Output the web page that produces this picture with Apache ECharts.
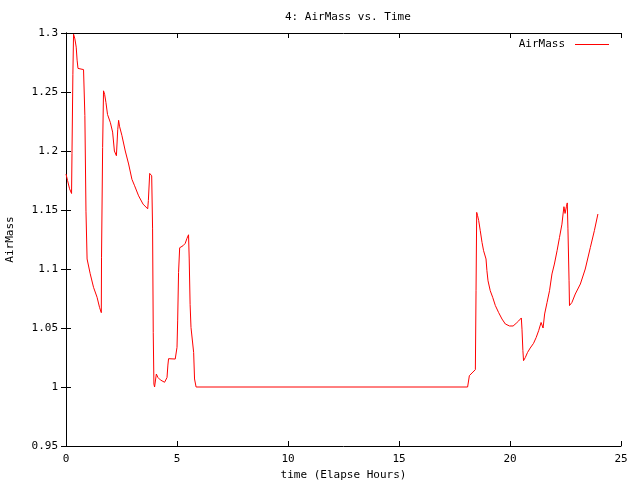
<!DOCTYPE html>
<html><head><meta charset="utf-8">
<script src="https://cdn.jsdelivr.net/npm/echarts@6/dist/echarts.min.js"></script>
<style>html,body{margin:0;padding:0;background:#fff}#c{width:640px;height:480px}</style>
</head><body><div id="c"></div>
<script>
const times = [0,0.07,0.16,0.25,0.27,0.31,0.34,0.4,0.46,0.5,0.54,0.79,0.84,0.85,0.9,0.95,1.09,1.24,1.4,1.51,1.59,1.6,1.65,1.69,1.74,1.8,1.87,2.0,2.1,2.18,2.27,2.33,2.37,2.41,2.52,2.67,2.82,2.97,3.08,3.27,3.47,3.68,3.71,3.77,3.86,3.9,3.93,3.96,3.99,4.07,4.14,4.25,4.44,4.55,4.59,4.62,4.92,5.0,5.03,5.07,5.12,5.27,5.37,5.45,5.52,5.55,5.59,5.63,5.72,5.75,5.79,5.86,
  18.09,18.17,18.29,18.44,18.47,18.5,18.54,18.59,18.66,18.74,18.81,18.92,18.96,19.01,19.11,19.22,19.34,19.49,19.64,19.79,19.98,20.14,20.28,20.39,20.51,20.54,20.58,20.61,20.69,20.79,20.91,21.06,21.18,21.29,21.4,21.49,21.56,21.67,21.78,21.89,22.0,22.12,22.23,22.34,22.39,22.43,22.48,22.54,22.58,22.61,22.66,22.68,22.79,22.94,23.17,23.39,23.62,23.8,23.96];
const airmass = [1.1805,1.175,1.168,1.164,1.198,1.265,1.299,1.295,1.288,1.277,1.270,1.269,1.270,1.230,1.149,1.1085,1.096,1.0845,1.076,1.0675,1.063,1.110,1.203,1.251,1.248,1.241,1.231,1.224,1.216,1.200,1.196,1.218,1.226,1.221,1.213,1.200,1.189,1.176,1.171,1.162,1.155,1.151,1.158,1.181,1.179,1.134,1.0463,1.0025,1.0,1.011,1.0081,1.006,1.004,1.008,1.0186,1.024,1.0237,1.0336,1.056,1.097,1.118,1.1197,1.1217,1.126,1.129,1.1085,1.070,1.0505,1.050,1.0293,1.0068,1.0,
  1.0,1.0096,1.0119,1.0147,1.0816,1.148,1.1452,1.141,1.1325,1.1225,1.1155,1.1085,1.0986,1.090,1.0816,1.076,1.069,1.063,1.0576,1.0534,1.0517,1.0517,1.054,1.056,1.0585,1.049,1.031,1.0223,1.025,1.0293,1.033,1.037,1.042,1.0477,1.0547,1.050,1.0619,1.0717,1.0816,1.0958,1.1042,1.1155,1.1268,1.138,1.1466,1.1528,1.1471,1.1528,1.156,1.134,1.090,1.069,1.0717,1.0788,1.0873,1.100,1.1183,1.1325,1.1466];
const xTicks = [0,5,10,15,20,25];
const yTicks = [0.95,1,1.05,1.1,1.15,1.2,1.25,1.3];

const font = 'DejaVu Sans Mono';
const data = times.map((t,i)=>[t,airmass[i]]);
const chart = echarts.init(document.getElementById('c'), null, {renderer:'canvas'});
const axCommon = {
  axisLine:{show:true,lineStyle:{color:'#000',width:1}},
  axisTick:{show:true,inside:true,length:5,lineStyle:{color:'#000'}},
  splitLine:{show:false}
};
chart.setOption({
  animation:false,
  backgroundColor:'#fff',
  title:{text:'4: AirMass vs. Time',left:280,top:7,textStyle:{fontFamily:font,fontSize:11,fontWeight:'normal',color:'#000'}},
  legend:{right:26,top:34,align:'right',icon:'rect',itemWidth:34,itemHeight:1,itemGap:5,
    textStyle:{fontFamily:font,fontSize:11,color:'#000',padding:[0,5,0,0]},data:['AirMass']},
  grid:{left:66,right:19,top:33,bottom:34,containLabel:false,outerBoundsMode:'none'},
  xAxis:[
    Object.assign({type:'value',min:xTicks[0],max:xTicks[xTicks.length-1],interval:5,position:'bottom',
      name:'time (Elapse Hours)',nameLocation:'middle',nameGap:21,
      nameTextStyle:{fontFamily:font,fontSize:11,color:'#000'},
      axisLabel:{fontFamily:font,fontSize:11,color:'#000',margin:8}},axCommon),
    Object.assign({type:'value',min:0,max:25,interval:5,position:'top',axisLabel:{show:false}},axCommon)
  ],
  yAxis:[
    Object.assign({type:'value',min:0.95,max:1.3,interval:0.05,position:'left',
      name:'AirMass',nameLocation:'middle',nameGap:50,
      nameTextStyle:{fontFamily:font,fontSize:11,color:'#000'},
      axisLabel:{fontFamily:font,fontSize:11,color:'#000',margin:8,formatter:v=>String(+v.toFixed(2))}},axCommon),
    Object.assign({type:'value',min:0.95,max:1.3,interval:0.05,position:'right',axisLabel:{show:false}},axCommon)
  ],
  series:[{name:'AirMass',type:'line',data:data,showSymbol:false,symbol:'none',
    lineStyle:{color:'#ff0000',width:1},itemStyle:{color:'#ff0000'}}]
});
</script></body></html>
